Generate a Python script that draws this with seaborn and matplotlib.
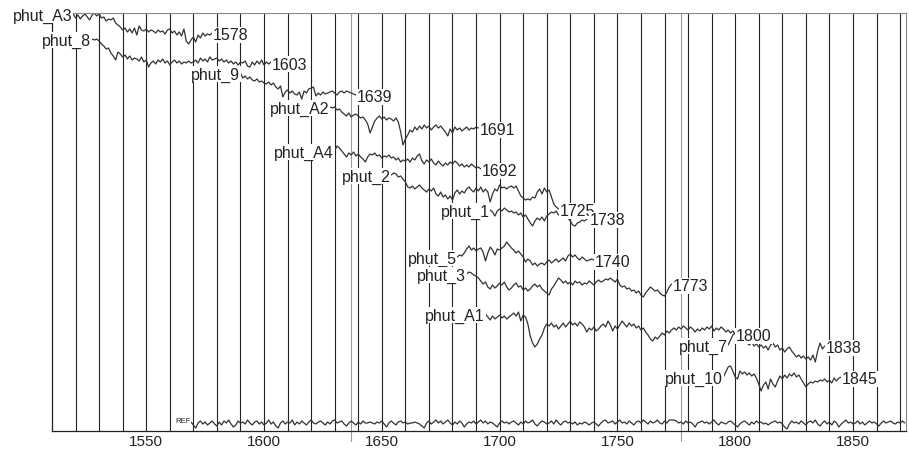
import numpy as np
import pandas as pd
import seaborn as sns
import matplotlib.pyplot as plt

# series: first year + yearly values (plotted downward, pixel-like units)
phut_A3_start = 1519
phut_A3 = [15, 19, 16, 20, 17, 15, 18, 21, 16, 14, 17, 15, 19, 18, 22, 20, 21, 19, 24, 26,
           28, 31, 29, 33, 30, 34, 29, 36, 27, 31, 32, 30, 33, 31, 32, 34, 31, 33, 32, 35,
           31, 30, 34, 32, 36, 33, 37, 30, 42, 45, 41, 38, 43, 36, 39, 34, 37, 35, 36, 34]

phut_8_start = 1527
phut_8 = [40, 41, 40, 42, 45, 47, 50, 49, 54, 57, 61, 53, 55, 58, 56, 60, 57, 61, 59, 60,
          62, 58, 63, 61, 68, 64, 62, 65, 61, 63, 60, 64, 62, 66, 63, 61, 64, 62, 65, 63,
          64, 62, 64, 63, 61, 64, 59, 62, 60, 63, 58, 61, 60, 59, 62, 60, 63, 61, 64, 62,
          65, 63, 66, 63, 64, 62, 67, 68, 63, 66, 62, 65, 61, 66, 63, 65, 63]

phut_9_start = 1590
phut_9 = [74, 79, 77, 80, 78, 81, 82, 80, 83, 82, 84, 85, 83, 86, 84, 88, 90, 87, 98, 93,
          91, 94, 92, 95, 96, 93, 100, 92, 94, 90, 89, 88, 97, 94, 96, 93, 95, 94, 93, 92,
          94, 96, 93, 92, 94, 92, 93, 94, 95, 96]

phut_A2_start = 1628
phut_A2 = [108, 109, 108, 111, 110, 113, 115, 117, 114, 118, 116, 115, 117, 119, 118, 121,
           125, 134, 128, 122, 119, 117, 120, 118, 121, 119, 120, 122, 119, 123, 133, 146,
           140, 136, 131, 133, 128, 131, 127, 130, 126, 129, 127, 131, 128, 126, 129, 127,
           130, 133, 137, 130, 134, 128, 131, 129, 132, 130, 128, 131, 129, 130, 128, 129]

phut_A4_start = 1630
phut_A4 = [152, 147, 149, 152, 155, 158, 154, 156, 153, 157, 155, 158, 160, 163, 158, 155,
           156, 154, 157, 156, 159, 157, 158, 156, 159, 158, 161, 159, 163, 161, 162, 160,
           163, 159, 161, 157, 155, 162, 165, 161, 163, 160, 164, 166, 162, 165, 167, 164,
           166, 163, 165, 162, 164, 167, 165, 168, 166, 168, 165, 167, 169, 168, 170]

phut_2_start = 1654
phut_2 = [176, 174, 175, 178, 177, 180, 183, 188, 189, 187, 190, 188, 186, 189, 191, 193,
          190, 192, 189, 195, 197, 193, 198, 196, 200, 197, 201, 194, 191, 195, 192, 194,
          190, 188, 191, 193, 189, 192, 188, 193, 190, 193, 203, 195, 190, 192, 186, 189,
          188, 190, 188, 187, 189, 187, 192, 197, 199, 201, 200, 201, 198, 199, 193, 190,
          195, 189, 193, 191, 198, 205, 208, 210]

phut_1_start = 1696
phut_1 = [211, 213, 217, 212, 210, 212, 209, 211, 213, 212, 214, 213, 216, 214, 218, 216,
          220, 224, 227, 222, 219, 221, 218, 222, 217, 215, 213, 214, 212, 216, 214, 218,
          216, 219, 222, 226, 227, 224, 223, 221, 222, 220, 219]

phut_5_start = 1682
phut_5 = [258, 256, 257, 254, 250, 247, 251, 249, 252, 250, 249, 253, 262, 254, 248, 251,
          256, 250, 251, 249, 247, 243, 246, 249, 251, 254, 252, 255, 258, 263, 260, 262,
          266, 264, 267, 265, 264, 266, 263, 261, 264, 262, 260, 263, 261, 259, 262, 257,
          255, 258, 256, 259, 261, 258, 260, 262, 261, 260, 261]

phut_3_start = 1686
phut_3 = [275, 273, 274, 276, 277, 279, 282, 285, 283, 288, 290, 286, 289, 287, 284, 286,
          283, 288, 291, 289, 286, 284, 288, 287, 291, 289, 292, 290, 287, 285, 288, 286,
          290, 292, 294, 296, 290, 287, 283, 279, 281, 284, 282, 285, 283, 286, 282, 284,
          283, 286, 284, 285, 282, 284, 286, 283, 281, 283, 282, 280, 281, 279, 281, 283,
          280, 286, 288, 287, 290, 289, 292, 291, 294, 292, 296, 298, 294, 291, 288, 290,
          292, 291, 294, 296, 297, 293, 288, 285]

phut_A1_start = 1694
phut_A1 = [315, 318, 321, 317, 320, 318, 316, 319, 317, 320, 318, 316, 314, 317, 313, 322,
           316, 318, 325, 337, 344, 348, 345, 340, 336, 329, 325, 327, 324, 328, 326, 330,
           327, 324, 328, 325, 322, 326, 324, 327, 323, 325, 328, 333, 329, 331, 328, 332,
           330, 327, 325, 328, 322, 326, 332, 327, 330, 326, 322, 325, 328, 324, 327, 325,
           329, 327, 331, 329, 333, 336, 340, 342, 338, 340, 337, 334, 336, 332, 334, 331,
           329, 331, 328, 330, 327, 329, 331, 328, 330, 333, 330, 332, 329, 331, 328, 330,
           327, 332, 329, 331, 328, 330, 333, 331, 334, 332, 335]

phut_7_start = 1797
phut_7 = [346, 341, 336, 334, 338, 340, 343, 341, 344, 346, 343, 347, 345, 348, 346, 349,
          347, 351, 346, 344, 348, 346, 351, 349, 353, 350, 348, 352, 355, 358, 356, 359,
          357, 360, 358, 361, 356, 363, 352, 344, 350, 347]

phut_10_start = 1795
phut_10 = [378, 373, 368, 367, 372, 378, 380, 372, 375, 373, 376, 374, 377, 375, 379, 385,
           392, 386, 383, 390, 380, 385, 388, 382, 377, 380, 376, 379, 375, 377, 374, 378,
           376, 380, 384, 388, 385, 383, 384, 382, 383, 381, 382, 380, 383, 381, 384, 379,
           382, 379, 378]

ref_start = 1569
ref = [423, 426, 429, 424, 422, 425, 423, 426, 424, 422, 425, 427, 423, 426, 422, 424,
       421, 425, 428, 426, 422, 424, 423, 425, 421, 424, 426, 423, 422, 425, 423, 426,
       424, 421, 425, 423, 427, 429, 424, 422, 425, 423, 424, 421, 426, 423, 425, 422,
       424, 426, 423, 421, 424, 425, 423, 422, 424, 426, 423, 425, 422, 421, 424, 423,
       422, 425, 427, 424, 422, 424, 426, 423, 425, 422, 424, 424, 423, 424, 425, 423,
       424, 422, 425, 428, 424, 422, 424, 426, 423, 422, 424, 423, 425, 424, 424, 423,
       424, 425, 427, 429, 424, 422, 425, 423, 421, 424, 422, 425, 423, 421, 424, 426,
       423, 425, 422, 424, 428, 425, 423, 424, 422, 425, 423, 421, 424, 422, 425, 423,
       424, 426, 428, 424, 422, 424, 423, 425, 423, 422, 424, 426, 423, 425, 422, 424,
       423, 421, 425, 427, 424, 422, 423, 425, 424, 422, 425, 421, 424, 426, 423, 422,
       424, 423, 425, 423, 426, 424, 425, 423, 424, 426, 424, 423, 425, 427, 424, 422,
       421, 424, 423, 422, 425, 423, 421, 424, 423, 425, 422, 424, 426, 423, 422, 424,
       421, 423, 425, 422, 424, 423, 421, 424, 425, 422, 424, 421, 421, 421, 422, 424,
       423, 425, 422, 424, 423, 425, 428, 424, 423, 422, 424, 423, 425, 423, 421, 424,
       426, 423, 424, 425, 423, 422, 424, 426, 428, 425, 423, 422, 424, 426, 423, 425,
       422, 424, 423, 425, 424, 426, 424, 423, 422, 424, 423, 425, 428, 430, 425, 422,
       424, 423, 425, 422, 424, 426, 423, 422, 424, 421, 425, 427, 424, 422, 425, 423,
       426, 422, 424, 428, 425, 423, 421, 424, 423, 425, 424, 422, 425, 423, 426, 424,
       422, 424, 423, 425, 427, 424, 422, 424, 423, 422, 424, 425, 423, 424, 422, 424]

series = [
    ("phut_A3", phut_A3_start, phut_A3),
    ("phut_8", phut_8_start, phut_8),
    ("phut_9", phut_9_start, phut_9),
    ("phut_A2", phut_A2_start, phut_A2),
    ("phut_A4", phut_A4_start, phut_A4),
    ("phut_2", phut_2_start, phut_2),
    ("phut_1", phut_1_start, phut_1),
    ("phut_5", phut_5_start, phut_5),
    ("phut_3", phut_3_start, phut_3),
    ("phut_A1", phut_A1_start, phut_A1),
    ("phut_7", phut_7_start, phut_7),
    ("phut_10", phut_10_start, phut_10),
    ("REF", ref_start, ref),
]

marker_years = [1637, 1777]  # short extra lines reaching below the axis

rows = []
for name, start, vals in series:
    for i, v in enumerate(vals):
        rows.append((name, start + i, v))
df = pd.DataFrame(rows, columns=["series", "year", "value"])

sns.set_theme(style="white")
plt.rcParams["font.family"] = ["Liberation Sans", "DejaVu Sans"]

fig = plt.figure(figsize=(9.09, 4.52), dpi=100)
ax = fig.add_axes([52 / 909, 1 - 432 / 452, 854 / 909, 418 / 452])

sns.lineplot(data=df, x="year", y="value", units="series", estimator=None,
             color="#333333", lw=0.9, ax=ax, legend=False)

ax.set_xlim(1510, 1872.5)
ax.set_ylim(432, 14)
ax.set_xticks(range(1550, 1851, 50))
ax.set_xticks(range(1520, 1871, 10), minor=True)
ax.set_yticks([])
ax.grid(axis="x", which="both", color="#222222", lw=0.8)
ax.set_axisbelow(True)
ax.tick_params(axis="x", which="both", length=0, pad=2.5, labelsize=11, labelcolor="#222222")
ax.set_xlabel("")
ax.set_ylabel("")

for yr in marker_years:
    ax.axvline(yr, ymin=-0.025, ymax=1, color="#999999", lw=0.8, clip_on=False, zorder=0)

for side in ["top", "right"]:
    ax.spines[side].set_color("#888888")
    ax.spines[side].set_linewidth(0.8)
for side in ["left", "bottom"]:
    ax.spines[side].set_color("#222222")
    ax.spines[side].set_linewidth(0.9)

box = dict(facecolor="white", edgecolor="none", pad=0.6)
for name, start, vals in series:
    end = start + len(vals) - 1
    if name == "REF":
        ax.text(start - 0.3, vals[0] - 1, name, ha="right", va="center",
                fontsize=5.5, color="#222222", bbox=box, zorder=4)
        continue
    ax.text(start - 0.3, vals[0] + 1, name, ha="right", va="center",
            fontsize=11.5, color="#222222", bbox=box, zorder=4)
    ax.text(end + 0.4, vals[-1] + 2, str(end), ha="left", va="center",
            fontsize=11.5, color="#222222", bbox=box, zorder=4)

plt.savefig("out.png", dpi=100)
plt.close()
